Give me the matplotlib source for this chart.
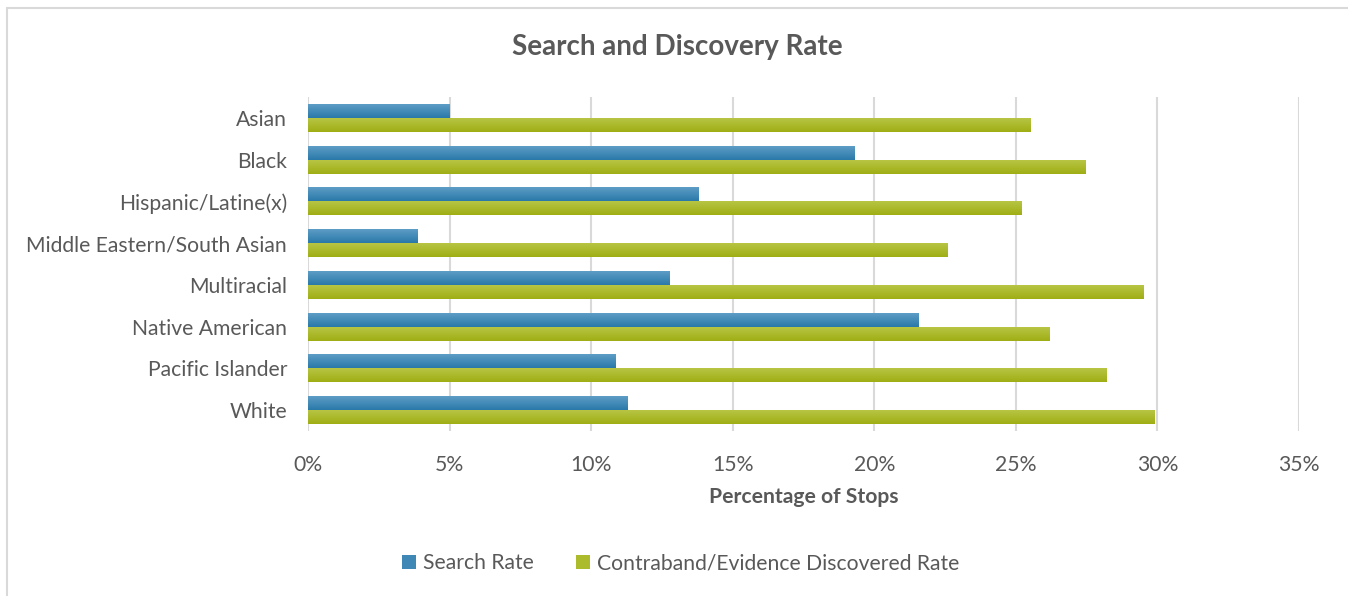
import numpy as np
import matplotlib
matplotlib.use("Agg")
import matplotlib.pyplot as plt
from matplotlib.patches import Patch, Rectangle
from matplotlib.ticker import FuncFormatter

# data
groups = ["Asian", "Black", "Hispanic/Latine(x)", "Middle Eastern/South Asian",
          "Multiracial", "Native American", "Pacific Islander", "White"]
search_rate = [5.0, 19.3, 13.8, 3.85, 12.75, 21.55, 10.85, 11.3]
discovered_rate = [25.5, 27.45, 25.2, 22.6, 29.5, 26.2, 28.2, 29.9]
series_names = ["Search Rate", "Contraband/Evidence Discovered Rate"]
xticks = [0, 5, 10, 15, 20, 25, 30, 35]

plt.rcParams['font.family'] = ['Lato', 'DejaVu Sans']
txt = "#595959"
blue_top, blue_bot = "#5d9dc6", "#2a79a9"
green_top, green_bot = "#b7c544", "#9fae14"

W, H = 1348, 596
fig = plt.figure(figsize=(W / 100, H / 100), dpi=100)

# outer chart border
fig.patches.append(Rectangle((7 / W, -0.05), 1.0, 1.05 - 8 / H, transform=fig.transFigure,
                             fill=False, edgecolor="#d9d9d9", lw=1.5))

ax = fig.add_axes([308 / W, 1 - 431 / H, 991 / W, 334 / H])

y = np.arange(len(groups))
bh = 0.335
b1 = ax.barh(y - bh / 2, search_rate, height=bh, color=blue_bot, zorder=2)
b2 = ax.barh(y + bh / 2, discovered_rate, height=bh, color=green_bot, zorder=2)


def grad_fill(bars, c_top, c_bot):
    top = np.array(matplotlib.colors.to_rgb(c_top))
    bot = np.array(matplotlib.colors.to_rgb(c_bot))
    t = np.linspace(0, 1, 32)[:, None]
    img = (top * (1 - t) + bot * t)[:, None, :]
    for r in bars:
        x0, y0, w, h = r.get_x(), r.get_y(), r.get_width(), r.get_height()
        ax.imshow(img, extent=[x0, x0 + w, y0 + h, y0], aspect='auto', zorder=3,
                  interpolation='bilinear')


grad_fill(b1, blue_top, blue_bot)
grad_fill(b2, green_top, green_bot)

ax.set_xlim(0, 35)
ax.set_ylim(len(groups) - 0.5, -0.5)
ax.set_xticks(xticks)
ax.xaxis.set_major_formatter(FuncFormatter(lambda v, p: f"{v:.0f}%"))
ax.set_yticks(y)
ax.set_yticklabels(groups)
ax.grid(axis='x', color="#d9d9d9", lw=1.5, zorder=0)
ax.set_axisbelow(True)
for s in ax.spines.values():
    s.set_visible(False)
ax.tick_params(length=0, labelsize=15.2, colors=txt, pad=15)
ax.tick_params(axis='x', pad=17)

fig.text(677 / W, 1 - 47 / H, "Search and Discovery Rate", ha='center', va='center',
         fontsize=20, fontweight='bold', color=txt)
fig.text(803.5 / W, 1 - 497 / H, "Percentage of Stops", ha='center', va='center',
         fontsize=15.2, fontweight='bold', color=txt)

handles = [Patch(facecolor="#3f88b6"), Patch(facecolor="#acbb2b")]
fig.legend(handles, series_names, loc='center', bbox_to_anchor=(681 / W, 1 - 563 / H),
           ncol=2, frameon=False, fontsize=15.2, labelcolor=txt, handlelength=0.65,
           handleheight=0.65, handletextpad=0.35, columnspacing=2.0)

fig.savefig("out.png", dpi=100, facecolor="white")
